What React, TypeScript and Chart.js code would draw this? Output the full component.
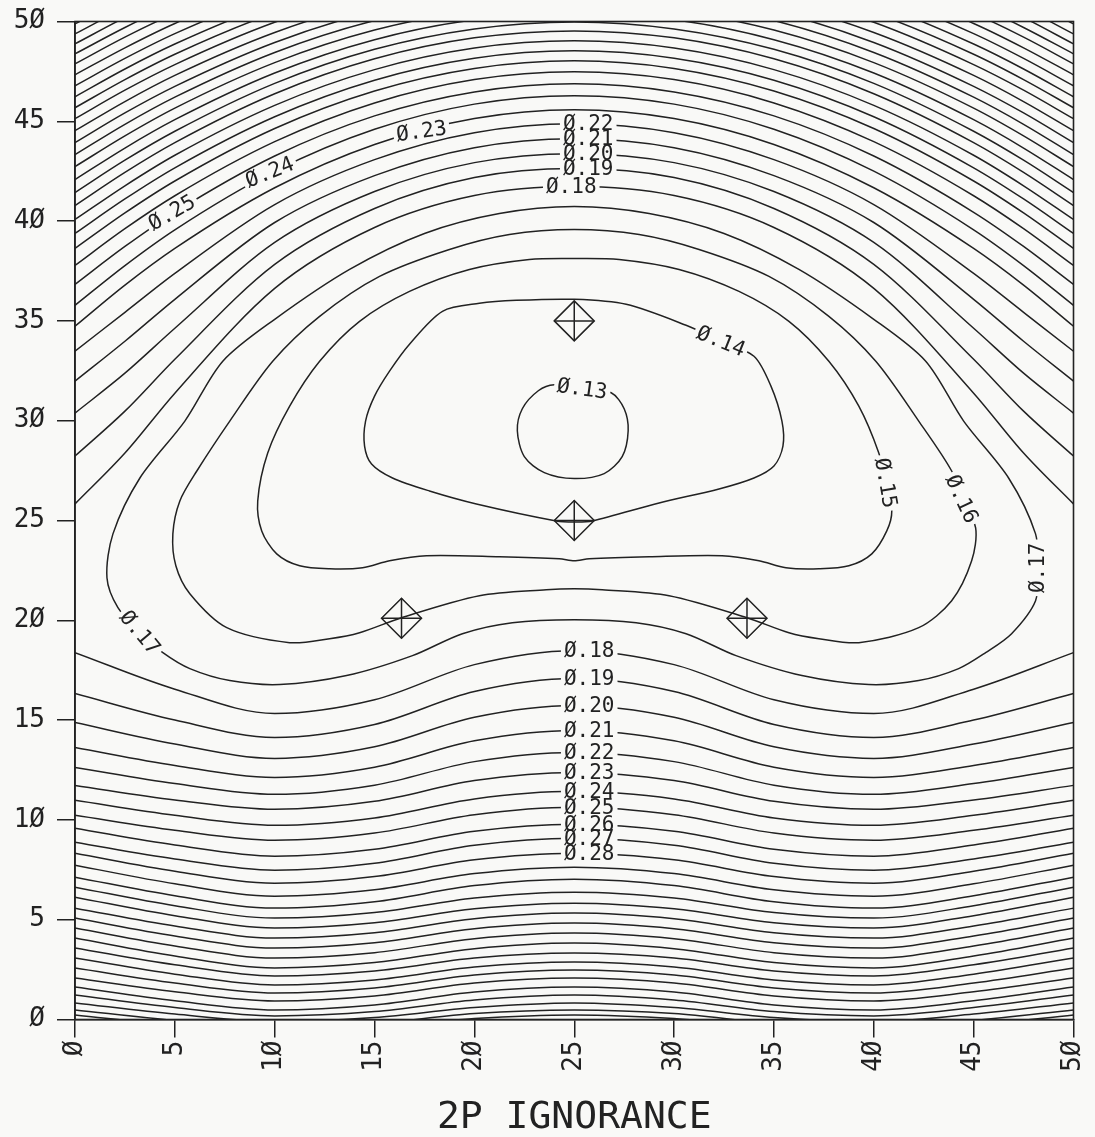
import React, { useEffect, useRef } from "react";
import { Chart, registerables } from "chart.js";

Chart.register(...registerables);

const BG = "#f9f9f7";
const INK = "#222222";
const FONT = '"DejaVu Sans Mono", "Liberation Mono", monospace';

// ---------- axis ticks ----------
const X_MIN = 0;
const X_MAX = 50;
const Y_MIN = 0;
const Y_MAX = 50;
const TICK_STEP = 5;
const X_TITLE = "2P IGNORANCE";

// ---------- upper family of contours (levels 0.18 .. 0.46), y read at TOP_X ----------
const TOP_X = [0, 2.5, 5, 10, 15, 20, 25, 30, 35, 40, 45, 47.5, 50];
const TOP_LEVELS = [0.18, 0.19, 0.2, 0.21, 0.22, 0.23, 0.24, 0.25, 0.26, 0.27, 0.28, 0.29, 0.3, 0.31, 0.32, 0.33, 0.34, 0.35, 0.36, 0.37, 0.38, 0.39, 0.4, 0.41, 0.42, 0.43, 0.44, 0.45, 0.46];
const TOP_Y = [
  [25.83, 28.38, 31.38, 36.63, 39.68, 41.28, 41.73, 41.28, 39.68, 36.63, 31.38, 28.38, 25.83],
  [28.23, 30.48, 33.08, 37.83, 40.63, 42.18, 42.63, 42.18, 40.63, 37.83, 33.08, 30.48, 28.23],
  [30.38, 32.38, 34.63, 38.93, 41.48, 42.93, 43.38, 42.93, 41.48, 38.93, 34.63, 32.38, 30.38],
  [31.98, 33.98, 36.08, 39.93, 42.28, 43.68, 44.13, 43.68, 42.28, 39.93, 36.08, 33.98, 31.98],
  [33.48, 35.43, 37.38, 40.83, 43.08, 44.43, 44.88, 44.43, 43.08, 40.83, 37.38, 35.43, 33.48],
  [34.73, 36.79, 38.63, 41.67, 43.84, 45.14, 45.58, 45.14, 43.84, 41.67, 38.63, 36.79, 34.73],
  [35.78, 37.77, 39.56, 42.5, 44.6, 45.86, 46.28, 45.86, 44.6, 42.5, 39.56, 37.77, 35.78],
  [36.83, 38.73, 40.44, 43.26, 45.27, 46.47, 46.88, 46.47, 45.27, 43.26, 40.44, 38.73, 36.83],
  [37.78, 39.62, 41.27, 43.98, 45.92, 47.09, 47.48, 47.09, 45.92, 43.98, 41.27, 39.62, 37.78],
  [38.63, 40.41, 42.01, 44.64, 46.52, 47.65, 48.03, 47.65, 46.52, 44.64, 42.01, 40.41, 38.63],
  [39.38, 41.11, 42.67, 45.23, 47.06, 48.16, 48.53, 48.16, 47.06, 45.23, 42.67, 41.11, 39.38],
  [40.08, 41.77, 43.3, 45.8, 47.59, 48.67, 49.03, 48.67, 47.59, 45.8, 43.3, 41.77, 40.08],
  [40.78, 42.44, 43.93, 46.38, 48.13, 49.18, 49.53, 49.18, 48.13, 46.38, 43.93, 42.44, 40.78],
  [41.43, 43.05, 44.5, 46.9, 48.61, 49.63, 49.98, 49.63, 48.61, 46.9, 44.5, 43.05, 41.43],
  [42.08, 43.66, 45.08, 47.42, 49.09, 50.09, 50.43, 50.09, 49.09, 47.42, 45.08, 43.66, 42.08],
  [42.73, 44.27, 45.66, 47.94, 49.57, 50.55, 50.88, 50.55, 49.57, 47.94, 45.66, 44.27, 42.73],
  [43.33, 44.85, 46.21, 48.45, 50.05, 51.0, 51.33, 51.0, 50.05, 48.45, 46.21, 44.85, 43.33],
  [43.93, 45.42, 46.75, 48.95, 50.52, 51.46, 51.78, 51.46, 50.52, 48.95, 46.75, 45.42, 43.93],
  [44.53, 45.99, 47.3, 49.45, 50.99, 51.92, 52.23, 51.92, 50.99, 49.45, 47.3, 45.99, 44.53],
  [45.13, 46.56, 47.84, 49.96, 51.47, 52.37, 52.68, 52.37, 51.47, 49.96, 47.84, 46.56, 45.13],
  [45.68, 47.09, 48.36, 50.44, 51.93, 52.83, 53.13, 52.83, 51.93, 50.44, 48.36, 47.09, 45.68],
  [46.23, 47.62, 48.87, 50.93, 52.4, 53.28, 53.58, 53.28, 52.4, 50.93, 48.87, 47.62, 46.23],
  [46.78, 48.15, 49.39, 51.42, 52.87, 53.74, 54.03, 53.74, 52.87, 51.42, 49.39, 48.15, 46.78],
  [47.33, 48.68, 49.9, 51.9, 53.33, 54.19, 54.48, 54.19, 53.33, 51.9, 49.9, 48.68, 47.33],
  [47.88, 49.22, 50.41, 52.39, 53.8, 54.64, 54.93, 54.64, 53.8, 52.39, 50.41, 49.22, 47.88],
  [48.38, 49.7, 50.9, 52.86, 54.26, 55.1, 55.38, 55.1, 54.26, 52.86, 50.9, 49.7, 48.38],
  [48.88, 50.2, 51.38, 53.32, 54.71, 55.55, 55.83, 55.55, 54.71, 53.32, 51.38, 50.2, 48.88],
  [49.38, 50.69, 51.86, 53.79, 55.17, 56.0, 56.28, 56.0, 55.17, 53.79, 51.86, 50.69, 49.38],
  [49.88, 51.18, 52.34, 54.26, 55.63, 56.45, 56.73, 56.45, 55.63, 54.26, 52.34, 51.18, 49.88],
];

// ---------- lower family of contours (levels 0.18 .. 0.45), y read at BOTTOM_X ----------
const BOTTOM_X = [0, 5, 10, 15, 20, 25, 30, 35, 40, 45, 50];
const BOTTOM_LEVELS = [0.18, 0.19, 0.2, 0.21, 0.22, 0.23, 0.24, 0.25, 0.26, 0.27, 0.28, 0.29, 0.3, 0.31, 0.32, 0.33, 0.34, 0.35, 0.36, 0.37, 0.38, 0.39, 0.4, 0.41, 0.42, 0.43, 0.44, 0.45];
const BOTTOM_Y = [
  [18.38, 16.55, 15.33, 16.02, 17.78, 18.48, 17.78, 16.02, 15.33, 16.55, 18.38],
  [16.33, 15.0, 14.13, 14.78, 16.43, 17.08, 16.43, 14.78, 14.13, 15.0, 16.33],
  [14.88, 13.8, 13.08, 13.66, 15.14, 15.73, 15.14, 13.66, 13.08, 13.8, 14.88],
  [13.63, 12.73, 12.13, 12.64, 13.96, 14.48, 13.96, 12.64, 12.13, 12.73, 13.63],
  [12.63, 11.82, 11.28, 11.74, 12.92, 13.38, 12.92, 11.74, 11.28, 11.82, 12.63],
  [11.73, 11.0, 10.53, 10.93, 11.97, 12.38, 11.97, 10.93, 10.53, 11.0, 11.73],
  [10.98, 10.23, 9.73, 10.1, 11.05, 11.43, 11.05, 10.1, 9.73, 10.23, 10.98],
  [10.23, 9.48, 8.98, 9.34, 10.26, 10.63, 10.26, 9.34, 8.98, 9.48, 10.23],
  [9.58, 8.74, 8.18, 8.53, 9.43, 9.78, 9.43, 8.53, 8.18, 8.74, 9.58],
  [8.88, 8.04, 7.48, 7.83, 8.73, 9.08, 8.73, 7.83, 7.48, 8.04, 8.88],
  [8.33, 7.43, 6.83, 7.16, 8.0, 8.33, 8.0, 7.16, 6.83, 7.43, 8.33],
  [7.73, 6.8, 6.18, 6.5, 7.31, 7.63, 7.31, 6.5, 6.18, 6.8, 7.73],
  [7.13, 6.2, 5.58, 5.9, 6.71, 7.03, 6.71, 5.9, 5.58, 6.2, 7.13],
  [6.63, 5.7, 5.08, 5.36, 6.09, 6.38, 6.09, 5.36, 5.08, 5.7, 6.63],
  [6.13, 5.2, 4.58, 4.85, 5.55, 5.83, 5.55, 4.85, 4.58, 5.2, 6.13],
  [5.58, 4.68, 4.08, 4.35, 5.05, 5.33, 5.05, 4.35, 4.08, 4.68, 5.58],
  [5.08, 4.18, 3.58, 3.85, 4.55, 4.83, 4.55, 3.85, 3.58, 4.18, 5.08],
  [4.58, 3.68, 3.08, 3.35, 4.05, 4.33, 4.05, 3.35, 3.08, 3.68, 4.58],
  [4.08, 3.18, 2.58, 2.85, 3.55, 3.83, 3.55, 2.85, 2.58, 3.18, 4.08],
  [3.58, 2.74, 2.18, 2.43, 3.08, 3.33, 3.08, 2.43, 2.18, 2.74, 3.58],
  [3.08, 2.27, 1.73, 1.98, 2.63, 2.88, 2.63, 1.98, 1.73, 2.27, 3.08],
  [2.58, 1.83, 1.33, 1.58, 2.23, 2.48, 2.23, 1.58, 1.33, 1.83, 2.58],
  [2.08, 1.39, 0.93, 1.18, 1.83, 2.08, 1.83, 1.18, 0.93, 1.39, 2.08],
  [1.63, 0.94, 0.48, 0.73, 1.38, 1.63, 1.38, 0.73, 0.48, 0.94, 1.63],
  [1.23, 0.6, 0.18, 0.4, 0.98, 1.23, 0.98, 0.4, 0.18, 0.6, 1.23],
  [0.83, 0.27, -0.1, 0.1, 0.6, 0.83, 0.6, 0.1, -0.1, 0.27, 0.83],
  [0.48, -0.05, -0.4, -0.2, 0.3, 0.48, 0.3, -0.2, -0.4, -0.05, 0.48],
  [0.23, -0.3, -0.6, -0.4, 0.05, 0.23, 0.05, -0.4, -0.6, -0.3, 0.23],
];

// ---------- closed contours around the minimum ----------
const LOOP_013_X = [25.4, 26.85, 27.5, 27.7, 27.4, 26.5, 25, 23.5, 22.5, 22.15, 22.4, 23.2, 24.0, 25.4];
const LOOP_013_Y = [31.6, 31.4, 30.6, 29.5, 28.2, 27.35, 27.1, 27.4, 28.2, 29.5, 30.6, 31.5, 31.8, 31.6];

const LOOP_014_X = [32.35, 34.0, 34.85, 35.4, 35.45, 35.0, 34.0, 32.25, 29.25, 25.9, 25, 24.1, 20.1, 17.75, 15.9, 14.85, 14.5, 14.55, 15.0, 15.75, 16.75, 18.4, 20.25, 22.1, 25, 27.6, 30.6, 32.35];
const LOOP_014_Y = [33.98, 33.23, 31.73, 29.98, 28.73, 27.73, 27.13, 26.58, 25.88, 24.98, 24.93, 24.98, 25.83, 26.48, 27.13, 27.83, 28.73, 29.98, 31.23, 32.48, 33.83, 35.48, 35.88, 36.03, 36.08, 35.83, 34.78, 33.98];

const LOOP_015_X = [40.6, 40.25, 39.25, 37.75, 35.75, 33.25, 30.25, 27.25, 25, 22.75, 19.75, 16.75, 14.25, 12.25, 10.75, 9.65, 9.15, 9.35, 10.1, 11.25, 12.75, 14.4, 15.75, 17.6, 21.25, 24.25, 25, 25.75, 28.75, 32.4, 34.25, 35.6, 37.25, 38.75, 39.9, 40.65, 40.9, 40.6];
const LOOP_015_Y = [26.88, 28.38, 30.73, 32.98, 34.98, 36.48, 37.58, 38.08, 38.13, 38.08, 37.58, 36.48, 34.98, 32.98, 30.73, 28.38, 25.98, 24.48, 23.33, 22.73, 22.58, 22.63, 22.98, 23.23, 23.18, 23.08, 22.98, 23.08, 23.18, 23.23, 22.98, 22.63, 22.58, 22.73, 23.33, 24.48, 25.48, 26.88];

const LOOP_016_X = [44.4, 43.9, 42.25, 40.1, 37.75, 34.75, 31.25, 28.25, 25, 21.75, 18.75, 15.25, 12.25, 9.9, 7.75, 6.1, 5.25, 4.9, 5.05, 5.75, 7.6, 10.75, 12.75, 14.25, 16.35, 20.25, 23.6, 25, 26.4, 29.75, 33.65, 35.75, 37.25, 39.25, 42.25, 43.9, 44.9, 45.1, 44.4];
const LOOP_016_Y = [26.08, 27.48, 29.98, 32.98, 35.23, 37.23, 38.58, 39.33, 39.58, 39.33, 38.58, 37.23, 35.23, 32.98, 29.98, 27.48, 25.98, 24.33, 22.73, 21.33, 19.63, 18.88, 19.08, 19.38, 20.13, 21.23, 21.53, 21.58, 21.53, 21.23, 20.13, 19.38, 19.08, 18.88, 19.63, 20.98, 22.98, 24.63, 26.08];

const LOOP_017_X = [48.2, 48.1, 46.75, 44.5, 42.6, 40, 36.25, 32.5, 28.75, 25, 21.25, 17.5, 13.75, 10, 7.4, 5.5, 3.25, 1.9, 1.6, 2.15, 3.25, 4.4, 5.75, 7.75, 10.25, 13.6, 16.9, 19.4, 21.9, 25, 28.1, 30.6, 33.1, 36.4, 39.75, 42.25, 44.25, 45.6, 46.9, 48.1, 48.2];
const LOOP_017_Y = [22.63, 24.33, 27.13, 29.98, 32.98, 35.08, 37.58, 39.38, 40.38, 40.73, 40.38, 39.38, 37.58, 35.08, 32.98, 29.98, 27.13, 24.33, 22.13, 20.63, 19.38, 18.38, 17.58, 16.98, 16.78, 17.23, 18.23, 19.33, 19.88, 20.03, 19.88, 19.33, 18.23, 17.23, 16.78, 16.98, 17.58, 18.38, 19.33, 20.98, 22.63];

// ---------- design points (diamond markers) ----------
const MARK_X = [25, 25, 16.35, 33.65];
const MARK_Y = [35, 25, 20.1, 20.1];

// ---------- contour labels ----------
const LABEL_TEXT = ["Ø.13", "Ø.14", "Ø.15", "Ø.16", "Ø.17", "Ø.17", "Ø.18", "Ø.19", "Ø.20", "Ø.21", "Ø.22", "Ø.23", "Ø.24", "Ø.25", "Ø.18", "Ø.19", "Ø.20", "Ø.21", "Ø.22", "Ø.23", "Ø.24", "Ø.25", "Ø.26", "Ø.27", "Ø.28"];
const LABEL_X = [25.4, 32.35, 40.6, 44.4, 48.2, 3.25, 24.85, 25.7, 25.7, 25.7, 25.7, 17.35, 9.75, 4.85, 25.75, 25.75, 25.75, 25.75, 25.75, 25.75, 25.75, 25.75, 25.75, 25.75, 25.75];
const LABEL_Y = [31.6, 33.98, 26.88, 26.08, 22.63, 19.38, 41.73, 42.63, 43.38, 44.13, 44.88, 44.5, 42.45, 40.42, 18.48, 17.08, 15.73, 14.48, 13.38, 12.38, 11.43, 10.63, 9.78, 9.08, 8.33];
const LABEL_ANGLE = [8, 22, 80, 65, -90, 50, 0, 0, 0, 0, 0, -8, -22, -30, 0, 0, 0, 0, 0, 0, 0, 0, 0, 0, 0];

function lineDataset(xs: number[], ys: number[], monotone: boolean, label: string) {
  return {
    label,
    data: xs.map((x, i) => ({ x, y: ys[i] })),
    showLine: true,
    pointRadius: 0,
    pointHoverRadius: 0,
    borderColor: INK,
    borderWidth: 1.5,
    fill: false,
    tension: monotone ? 0 : 0.3,
    cubicInterpolationMode: monotone ? "monotone" : "default",
  };
}

const contourLabelsPlugin = {
  id: "contourLabels",
  beforeDraw(chart: any) {
    const { ctx, width, height } = chart;
    ctx.save();
    ctx.fillStyle = BG;
    ctx.fillRect(0, 0, width, height);
    ctx.restore();
  },
  afterDatasetsDraw(chart: any) {
    const { ctx, chartArea } = chart;
    const xs = chart.scales.x;
    const ys = chart.scales.y;
    ctx.save();
    ctx.font = `21px ${FONT}`;
    ctx.textAlign = "center";
    ctx.textBaseline = "middle";
    const items = LABEL_TEXT.map((t, i) => ({
      t,
      px: xs.getPixelForValue(LABEL_X[i]),
      py: ys.getPixelForValue(LABEL_Y[i]),
      a: (LABEL_ANGLE[i] * Math.PI) / 180,
    }));
    for (const it of items) {
      const w = ctx.measureText(it.t).width;
      ctx.save();
      ctx.translate(it.px, it.py);
      ctx.rotate(it.a);
      ctx.fillStyle = BG;
      ctx.fillRect(-w / 2 - 3, -7, w + 6, 14);
      ctx.restore();
    }
    ctx.fillStyle = INK;
    for (const it of items) {
      ctx.save();
      ctx.translate(it.px, it.py);
      ctx.rotate(it.a);
      ctx.fillText(it.t, 0, 1);
      ctx.restore();
    }
    ctx.strokeStyle = INK;
    ctx.lineWidth = 1.6;
    ctx.strokeRect(chartArea.left, chartArea.top, chartArea.right - chartArea.left, chartArea.bottom - chartArea.top);
    ctx.restore();
  },
};

export default function App() {
  const ref = useRef<HTMLCanvasElement | null>(null);

  useEffect(() => {
    if (!ref.current) return;
    const datasets: any[] = [];
    TOP_Y.forEach((ys, i) => datasets.push(lineDataset(TOP_X, ys, true, `top ${TOP_LEVELS[i]}`)));
    BOTTOM_Y.forEach((ys, i) => datasets.push(lineDataset(BOTTOM_X, ys, true, `bottom ${BOTTOM_LEVELS[i]}`)));
    datasets.push(lineDataset(LOOP_013_X, LOOP_013_Y, false, "0.13"));
    datasets.push(lineDataset(LOOP_014_X, LOOP_014_Y, false, "0.14"));
    datasets.push(lineDataset(LOOP_015_X, LOOP_015_Y, false, "0.15"));
    datasets.push(lineDataset(LOOP_016_X, LOOP_016_Y, false, "0.16"));
    datasets.push(lineDataset(LOOP_017_X, LOOP_017_Y, false, "0.17"));
    const markData = MARK_X.map((x, i) => ({ x, y: MARK_Y[i] }));
    datasets.push({
      label: "design diamonds",
      data: markData,
      showLine: false,
      pointStyle: "rectRot",
      pointRadius: 20,
      pointHoverRadius: 20,
      pointBorderWidth: 1.5,
      pointBorderColor: INK,
      pointBackgroundColor: "rgba(0,0,0,0)",
    });
    datasets.push({
      label: "design crosses",
      data: markData,
      showLine: false,
      pointStyle: "cross",
      pointRadius: 20,
      pointHoverRadius: 20,
      pointBorderWidth: 1.5,
      pointBorderColor: INK,
      pointBackgroundColor: "rgba(0,0,0,0)",
    });

    const tickFmt = (v: any) => String(v).replace(/0/g, "Ø");

    const chart = new Chart(ref.current, {
      type: "scatter",
      data: { datasets },
      plugins: [contourLabelsPlugin],
      options: {
        responsive: false,
        animation: false,
        events: [],
        layout: { padding: { top: 19.5, right: 18, left: 0, bottom: 0 } },
        elements: { line: { capBezierPoints: false, borderCapStyle: "round", borderJoinStyle: "round" } },
        plugins: { legend: { display: false }, tooltip: { enabled: false } },
        scales: {
          x: {
            type: "linear",
            min: X_MIN,
            max: X_MAX,
            afterFit: (s: any) => {
              s.height = 117.5;
              s.paddingLeft = 0;
              s.paddingRight = 0;
              s.paddingTop = 0;
              s.paddingBottom = 0;
            },
            ticks: {
              stepSize: TICK_STEP,
              autoSkip: false,
              minRotation: 90,
              maxRotation: 90,
              padding: 3,
              color: INK,
              font: { family: FONT, size: 26 },
              callback: tickFmt,
            },
            grid: { display: true, drawOnChartArea: false, drawTicks: true, tickLength: 18, color: INK, lineWidth: 1.5 },
            border: { display: true, color: INK, width: 1.6 },
            title: { display: true, text: X_TITLE, color: INK, font: { family: FONT, size: 38 }, padding: { top: 0, bottom: -4 } },
          },
          y: {
            type: "linear",
            min: Y_MIN,
            max: Y_MAX,
            afterFit: (s: any) => {
              s.width = 75;
              s.paddingLeft = 0;
              s.paddingRight = 0;
              s.paddingTop = 0;
              s.paddingBottom = 0;
            },
            ticks: {
              stepSize: TICK_STEP,
              autoSkip: false,
              padding: 12,
              color: INK,
              font: { family: FONT, size: 26 },
              callback: tickFmt,
            },
            grid: { display: true, drawOnChartArea: false, drawTicks: true, tickLength: 18, color: INK, lineWidth: 1.5 },
            border: { display: true, color: INK, width: 1.6 },
          },
        },
      } as any,
    });
    return () => chart.destroy();
  }, []);

  return (
    <div style={{ position: "fixed", left: 0, top: 0, width: 1095, height: 1137, background: BG }}>
      <canvas ref={ref} width={1095} height={1137} style={{ display: "block", width: 1095, height: 1137 }} />
    </div>
  );
}
